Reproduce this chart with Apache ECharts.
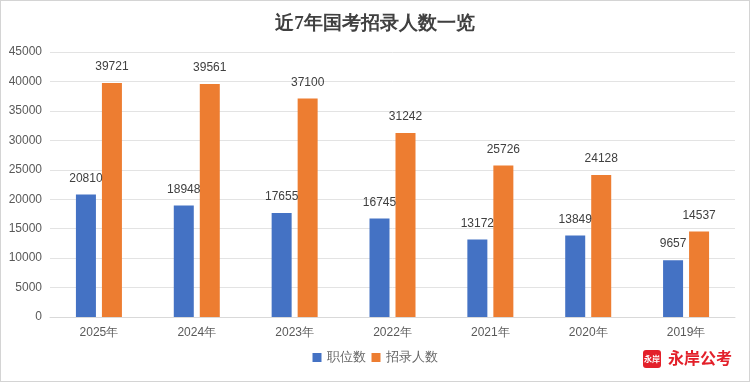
<!DOCTYPE html>
<html><head><meta charset="utf-8">
<script src="https://cdn.jsdelivr.net/npm/echarts@6/dist/echarts.min.js"></script>
<style>html,body{margin:0;padding:0;background:#fff}#c{width:748px;height:380px;border:1px solid #d4d4d4}</style>
</head><body><div id="c"></div>
<script>
const categories = ['2025年','2024年','2023年','2022年','2021年','2020年','2019年'];
const positions = [20810,18948,17655,16745,13172,13849,9657];
const recruits = [39721,39561,37100,31242,25726,24128,14537];
const yTicks = {min:0,max:45000,interval:5000};
const chart = echarts.init(document.getElementById('c'));
const lbl = {show:true,position:'top',distance:10,color:'#404040',fontSize:12,fontFamily:'Liberation Sans, Arial, sans-serif'};
chart.setOption({
  animation:false,
  title:{text:'近7年国考招录人数一览',left:'center',top:9,textStyle:{fontSize:19,fontWeight:'bold',color:'#404040',fontFamily:'serif'}},
  legend:{bottom:12,left:'center',itemWidth:9,itemHeight:9,itemGap:6,icon:'rect',textStyle:{fontSize:13,color:'#666',fontFamily:'serif'},data:['职位数','招录人数']},
  grid:{left:49,right:14,top:51,bottom:64},
  xAxis:{type:'category',data:categories,axisTick:{show:false},axisLine:{lineStyle:{color:'#d9d9d9'}},axisLabel:{color:'#595959',fontSize:12,margin:10,fontFamily:'Liberation Sans, Arial, sans-serif'}},
  yAxis:{type:'value',min:yTicks.min,max:yTicks.max,interval:yTicks.interval,splitLine:{lineStyle:{color:'#e3e3e3'}},axisLabel:{color:'#595959',fontSize:12,margin:8,fontFamily:'Liberation Sans, Arial, sans-serif',formatter:v=>String(v)}},
  series:[
    {name:'职位数',type:'bar',data:positions,barWidth:20,barGap:'30%',itemStyle:{color:'#4472C4'},label:lbl},
    {name:'招录人数',type:'bar',data:recruits,barWidth:20,itemStyle:{color:'#ED7D31'},label:lbl}
  ],
  graphic:[
    {type:'rect',left:642,top:349,shape:{width:18,height:18,r:3},style:{fill:'#e3202a'}},
    {type:'text',left:643,top:354,style:{text:'永岸',fill:'#fff',fontSize:8,fontWeight:'bold',fontFamily:'Noto Sans CJK SC'}},
    {type:'text',left:667,top:349,style:{text:'永岸公考',fill:'#e3202a',fontSize:16,fontWeight:'bold',fontFamily:'Noto Sans CJK SC'}}
  ]
});
</script></body></html>
